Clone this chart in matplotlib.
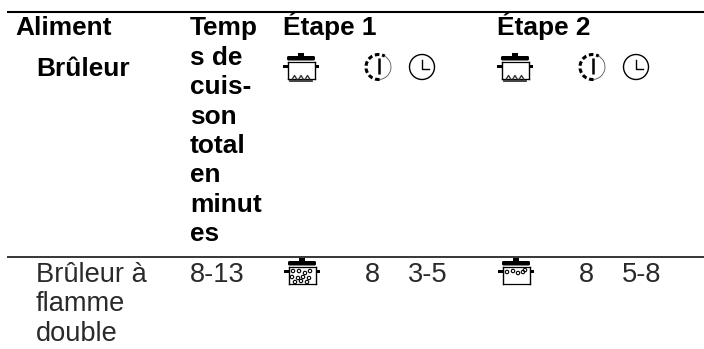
import numpy as np
import matplotlib
matplotlib.use("Agg")
import matplotlib.pyplot as plt
from matplotlib.patches import Circle, Rectangle, FancyBboxPatch, Arc

W, H = 704, 349
plt.rcParams['font.family'] = ['Liberation Sans', 'DejaVu Sans']

header_main = ["Aliment", "Étape 1", "Étape 2"]
header_sub = "Brûleur"
header_time = ["Temp", "s de", "cuis-", "son", "total", "en", "minut", "es"]
row_food = ["Brûleur à", "flamme", "double"]
row_total = "8-13"
row_power = ["8", "8"]
row_minutes = ["3-5", "5-8"]

fig = plt.figure(figsize=(W/100, H/100), dpi=100)
ax = fig.add_axes([0, 0, 1, 1])
ax.set_xlim(0, W); ax.set_ylim(H, 0); ax.axis('off')
FS_B = 18.9
FS_L = 19.6
K = 'black'
LEAD = 29.3

def bold(x, y, s):
    ax.text(x, y, s, fontsize=FS_B, fontweight='bold', va='baseline', ha='left', color=K)
def light(x, y, s, ha='left'):
    ax.text(x, y, s, fontsize=FS_L, va='baseline', ha=ha, color='#2a2a2a', fontweight='normal')

ax.plot([7, W], [12, 12], color=K, lw=1.5, solid_capstyle='butt')
ax.plot([7, W], [256.7, 256.7], color=K, lw=1.1, solid_capstyle='butt')

bold(15, 35, header_main[0])
bold(283, 35, header_main[1])
bold(497, 35, header_main[2])
bold(36, 76, header_sub)
bold(190, 35, header_time[0])
for i, s in enumerate(header_time[1:]):
    bold(190, 65 + i * LEAD, s)

def pot(cx, top, base='flame', dots=()):
    ax.add_patch(Rectangle((cx-3.3, top), 6.6, 3.5, color=K, lw=0))
    ax.add_patch(FancyBboxPatch((cx-14, top+3), 28, 4.5, boxstyle='round,pad=0,rounding_size=1.5', color=K, lw=0))
    ax.plot([cx-13.5, cx-13.5], [top+9, top+26], color=K, lw=1.0)
    ax.plot([cx+13.5, cx+13.5], [top+9, top+26], color=K, lw=1.0)
    ax.plot([cx-13.5, cx+13.5], [top+9, top+9], color=K, lw=0.9)
    ax.plot([cx-13.5, cx+13.5], [top+26, top+26], color=K, lw=0.9)
    ax.add_patch(Rectangle((cx-18, top+11.5), 4.5, 3.5, color=K, lw=0))
    ax.add_patch(Rectangle((cx+13.5, top+11.5), 4.5, 3.5, color=K, lw=0))
    if base == 'flame':
        ax.plot([cx-11, cx+11], [top+27.5, top+27.5], color='#333333', lw=1.3)
        for dx in (-6.5, 0, 6.5):
            ax.plot([dx+cx-2.2, dx+cx, dx+cx+2.2], [top+26, top+22.5, top+26], color='#333333', lw=1.0)
    for dx, dy in dots:
        ax.add_patch(Circle((cx+dx, top+dy), 1.7, fill=False, ec=K, lw=0.8))

def power(cx, cy):
    r = 12.5
    ax.add_patch(Arc((cx, cy), 2*r, 2*r, theta1=300, theta2=85, color='#555555', lw=0.6))
    ax.add_patch(Arc((cx, cy), 2*r, 2*r, theta1=85, theta2=300, angle=0, color=K, lw=2.2,
                     ls=(0, (1.5, 0.9))))
    ax.plot([cx, cx], [cy-9, cy+7], color=K, lw=1.8, solid_capstyle='butt')

def clock(cx, cy):
    ax.add_patch(Circle((cx, cy), 12.5, fill=False, ec=K, lw=1.0))
    ax.plot([cx, cx, cx+6.5], [cy-7.5, cy+1.5, cy+1.5], color=K, lw=1.0)

dots_full = [(-9,13),(-3,13),(3,15),(8,13),(-10,19),(-4,20),(1,19),(7,20),(-7,24),(-1,23),(5,24)]
dots_some = [(-9,14),(-3,13),(2,15),(7,14),(9,12)]

for ox in (0, 214):
    pot(301+ox, 53)
    power(378.5+ox, 67)
    clock(422+ox, 67)

pot(302, 258, base=None, dots=dots_full)
pot(516, 258, base=None, dots=dots_some)

for i, s in enumerate(row_food):
    light(36, 282 + i * LEAD, s)
light(190, 282, row_total)
for x, s in zip((372, 586), row_power):
    light(x, 282, s, ha='center')
for x, s in zip((408, 622), row_minutes):
    light(x, 282, s)

fig.savefig("out.png", dpi=100)
